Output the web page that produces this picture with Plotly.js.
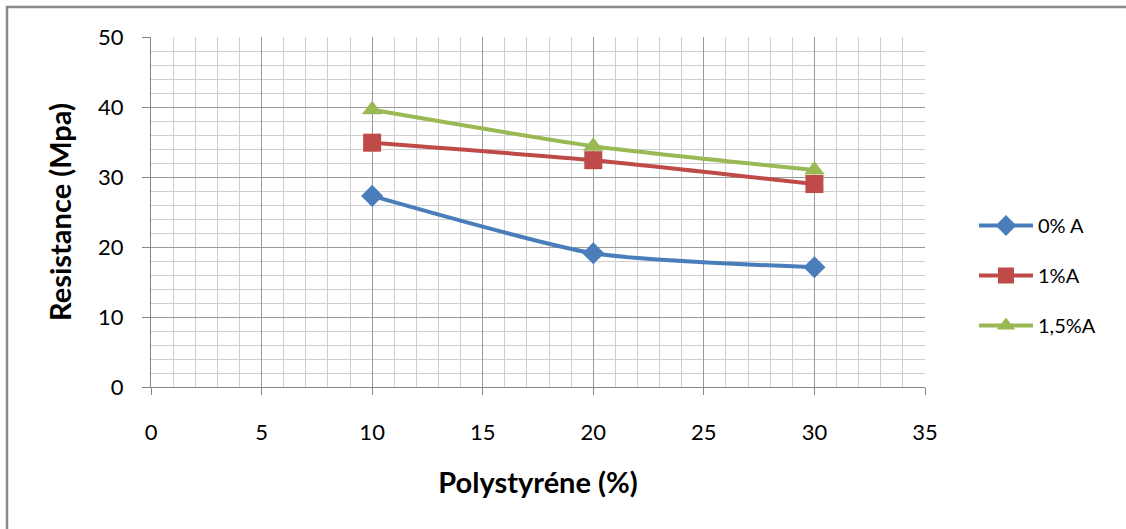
<!DOCTYPE html>
<html>
<head>
<meta charset="utf-8">
<script src="https://cdn.plot.ly/plotly-3.0.1.min.js"></script>
<style>
html,body{margin:0;padding:0;background:#fff;}
#chart{width:1126px;height:529px;}
</style>
</head>
<body>
<div id="chart"></div>
<script>
const xValues = [10, 20, 30];
const seriesNames = ["0% A", "1%A", "1,5%A"];
const series0 = [27.3, 19.1, 17.1];
const series1 = [34.9, 32.4, 29.0];
const series2 = [39.6, 34.4, 31.0];
const xTicks = [0, 5, 10, 15, 20, 25, 30, 35];
const yTicks = [0, 10, 20, 30, 40, 50];

const colors = ["#4A7EBB", "#BE4B48", "#98B954"];
const symbols = ["diamond", "square", "triangle-up"];
const sizes = [17, 18, 18];
const allSeries = [series0, series1, series2];

const traces = allSeries.map((ys, i) => ({
  x: xValues,
  y: ys,
  name: seriesNames[i],
  type: "scatter",
  mode: "lines+markers",
  line: {color: colors[i], width: 4, shape: "spline", smoothing: 0.6},
  marker: {color: colors[i], symbol: symbols[i], size: sizes[i]},
  legendgroup: "g" + i,
  cliponaxis: false
}));

const font = "Lato, 'Open Sans', 'Liberation Sans', sans-serif";
const W = 1126 - 151 - 201, H = 387 - 37;
const px = v => (v - 151) / W;
const py = v => (387 - v) / H;

const layout = {
  width: 1126, height: 529,
  margin: {l: 151, r: 201, t: 37, b: 142},
  paper_bgcolor: "#fff", plot_bgcolor: "#fff",
  font: {family: font, size: 22, color: "#000"},
  showlegend: true,
  legend: {
    x: px(974), xanchor: "left", xref: "paper",
    y: py(206), yanchor: "top",
    font: {family: font, size: 20},
    itemwidth: 54,
    traceorder: "grouped",
    tracegroupgap: 21,
    bgcolor: "rgba(0,0,0,0)"
  },
  xaxis: {
    range: [0, 35], tickvals: xTicks, ticktext: xTicks.map(String),
    showline: true, linecolor: "#868686", linewidth: 1,
    showgrid: true, gridcolor: "#9a9a9a", gridwidth: 1,
    ticks: "outside", ticklen: 7, tickcolor: "#868686",
    ticklabelstandoff: 19,
    zeroline: false,
    minor: {dtick: 1, showgrid: true, gridcolor: "#cfcfcf", gridwidth: 1, ticks: ""},
    title: {text: "<b>Polystyréne (%)</b>", font: {family: font, size: 29}, standoff: 28},
    tickfont: {family: font, size: 22}
  },
  yaxis: {
    range: [0, 50], tickvals: yTicks, ticktext: yTicks.map(String),
    showline: true, linecolor: "#868686", linewidth: 1,
    showgrid: true, gridcolor: "#9a9a9a", gridwidth: 1,
    ticks: "outside", ticklen: 8, tickcolor: "#868686",
    ticklabelstandoff: 14,
    zeroline: false,
    minor: {dtick: 2, showgrid: true, gridcolor: "#cfcfcf", gridwidth: 1, ticks: ""},
    title: {text: "<b>Resistance (Mpa)</b>", font: {family: font, size: 29}, standoff: 17},
    tickfont: {family: font, size: 22}
  },
  shapes: [{
    type: "rect", xref: "paper", yref: "paper",
    x0: px(7), x1: px(1140), y0: py(545), y1: py(7),
    line: {color: "#8a8a8a", width: 2.5}, fillcolor: "rgba(0,0,0,0)", layer: "below"
  }]
};

Plotly.newPlot("chart", traces, layout, {displayModeBar: false, staticPlot: true});
</script>
</body>
</html>
